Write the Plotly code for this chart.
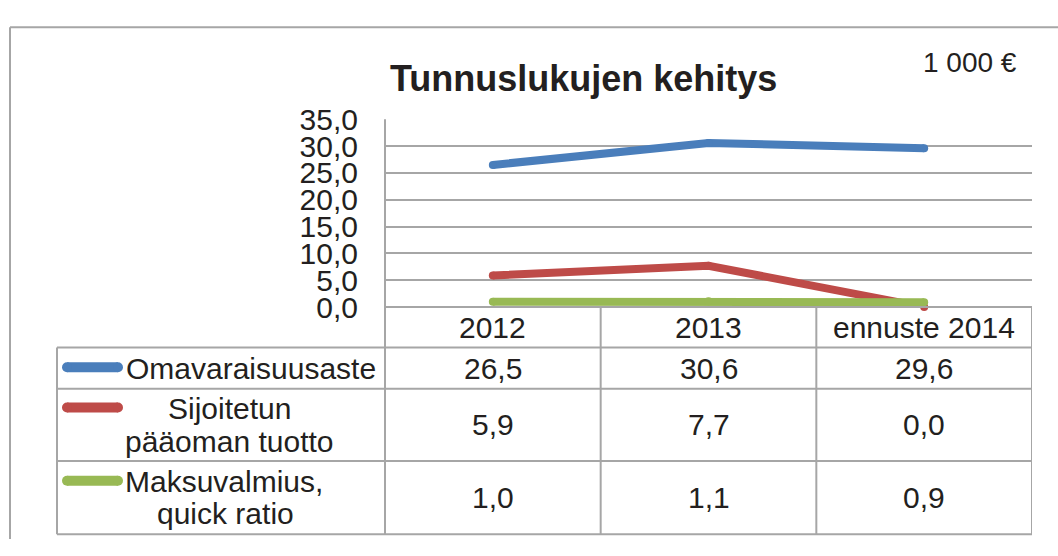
import plotly.graph_objects as go

W, H = 1058, 556

categories = ["2012", "2013", "ennuste 2014"]
series_names = ["Omavaraisuusaste", "Sijoitetun pääoman tuotto", "Maksuvalmius, quick ratio"]
omavaraisuusaste = [26.5, 30.6, 29.6]
sijoitetun_tuotto = [5.9, 7.7, 0.0]
maksuvalmius = [1.0, 1.1, 0.9]
y_ticks = [0, 5, 10, 15, 20, 25, 30, 35]

series = [omavaraisuusaste, sijoitetun_tuotto, maksuvalmius]
colors = ["#4A7EBB", "#BE4B48", "#98B954"]

FONT = "Liberation Sans, Arial, sans-serif"
TXT = "#231F20"
GRID = "#A6A6A6"


def px(x):
    return x / W


def py(y):
    return (H - y) / H


PLOT_L, PLOT_R, PLOT_T, PLOT_B = 385, 1032, 109, 309
ROWS = [309, 352, 396, 473, 551]
TABLE_L = 57

fig = go.Figure()

for name, vals, col in zip(series_names, series, colors):
    fig.add_trace(go.Scatter(
        x=categories, y=vals, name=name, mode="lines+markers",
        line=dict(color=col, width=8),
        marker=dict(color=col, size=8, line=dict(width=0)),
        cliponaxis=False, showlegend=False, hoverinfo="skip",
    ))

shapes = []
line_style = dict(color=GRID, width=2)
# outer frame
shapes.append(dict(type="line", xref="paper", yref="paper", x0=px(10), x1=1, y0=py(11), y1=py(11), line=line_style))
shapes.append(dict(type="line", xref="paper", yref="paper", x0=px(10), x1=px(10), y0=py(11), y1=0, line=line_style))
# vertical left plot line, down through table
shapes.append(dict(type="line", xref="paper", yref="paper", x0=px(PLOT_L), x1=px(PLOT_L), y0=py(PLOT_T), y1=py(ROWS[-1]), line=line_style))
# table horizontal lines
for i, r in enumerate(ROWS):
    x0 = px(PLOT_L) if i == 0 else px(TABLE_L)
    shapes.append(dict(type="line", xref="paper", yref="paper", x0=x0, x1=px(PLOT_R), y0=py(r), y1=py(r), line=line_style))
# table left border
shapes.append(dict(type="line", xref="paper", yref="paper", x0=px(TABLE_L), x1=px(TABLE_L), y0=py(ROWS[1]), y1=py(ROWS[-1]), line=line_style))
# column separators from the category axis
for k in range(1, len(categories) + 1):
    shapes.append(dict(type="line", xref="x", yref="paper", x0=k - 0.5, x1=k - 0.5, y0=py(ROWS[0]), y1=py(ROWS[-1]), line=line_style))

# legend keys inside table (line with round caps)
key_y = [373, 416, 494]
KEY_X0, KEY_X1, KEY_T = 62, 123, 10
for col, ky in zip(colors, key_y):
    r = KEY_T / 2
    shapes.append(dict(type="line", xref="paper", yref="paper",
                       x0=px(KEY_X0 + r), x1=px(KEY_X1 - r), y0=py(ky), y1=py(ky),
                       line=dict(color=col, width=KEY_T)))
    for cx in (KEY_X0 + r, KEY_X1 - r):
        shapes.append(dict(type="circle", xref="paper", yref="paper",
                           xsizemode="pixel", ysizemode="pixel",
                           xanchor=px(cx), yanchor=py(ky),
                           x0=-r, x1=r, y0=-r, y1=r,
                           fillcolor=col, line=dict(width=0)))

annotations = []


def ann(text, x, y, xanchor="center", size=30, bold=False, xref="paper"):
    annotations.append(dict(
        text=f"<b>{text}</b>" if bold else text, x=x, y=py(y), xref=xref, yref="paper",
        xanchor=xanchor, yanchor="middle", showarrow=False,
        font=dict(family=FONT, size=size, color=TXT),
    ))


ann("Tunnuslukujen kehitys", px(583), 65, size=36, bold=True)
ann("1 000 €", px(970), 48, size=28)

# header categories
for i, c in enumerate(categories):
    ann(c, i, (ROWS[0] + ROWS[1]) / 2, xref="x")

# values
row_centers = [(ROWS[k] + ROWS[k + 1]) / 2 for k in range(1, 4)]
for vals, yc in zip(series, row_centers):
    for i, v in enumerate(vals):
        ann(f"{v:.1f}".replace(".", ","), i, yc, xref="x")

# row labels
ann("Omavaraisuusaste", px(124), row_centers[0], xanchor="left")
ann("Sijoitetun", px(229), 417)
ann("pääoman tuotto", px(229), 452)
ann("Maksuvalmius,", px(224), 495)
ann("quick ratio", px(225), 529)

fig.update_layout(
    width=W, height=H, autosize=False,
    margin=dict(l=0, r=0, t=0, b=0),
    paper_bgcolor="white", plot_bgcolor="white",
    separators=", ",
    shapes=shapes, annotations=annotations,
    xaxis=dict(domain=[px(PLOT_L), px(PLOT_R)], type="category", range=[-0.5, 2.5],
               showticklabels=False, showgrid=False, zeroline=False, showline=False, fixedrange=True),
    yaxis=dict(domain=[py(PLOT_B), py(PLOT_T)], range=[0, 35], tickvals=y_ticks, tickformat=".1f",
               showgrid=True, gridcolor=GRID, gridwidth=2, zeroline=False, showline=False,
               ticks="", ticklabelstandoff=26,
               tickfont=dict(family=FONT, size=30, color=TXT), fixedrange=True),
)

fig.write_html("out.html", config={"displayModeBar": False},
               post_script="document.body.style.margin='0';document.body.style.overflow='hidden';")
